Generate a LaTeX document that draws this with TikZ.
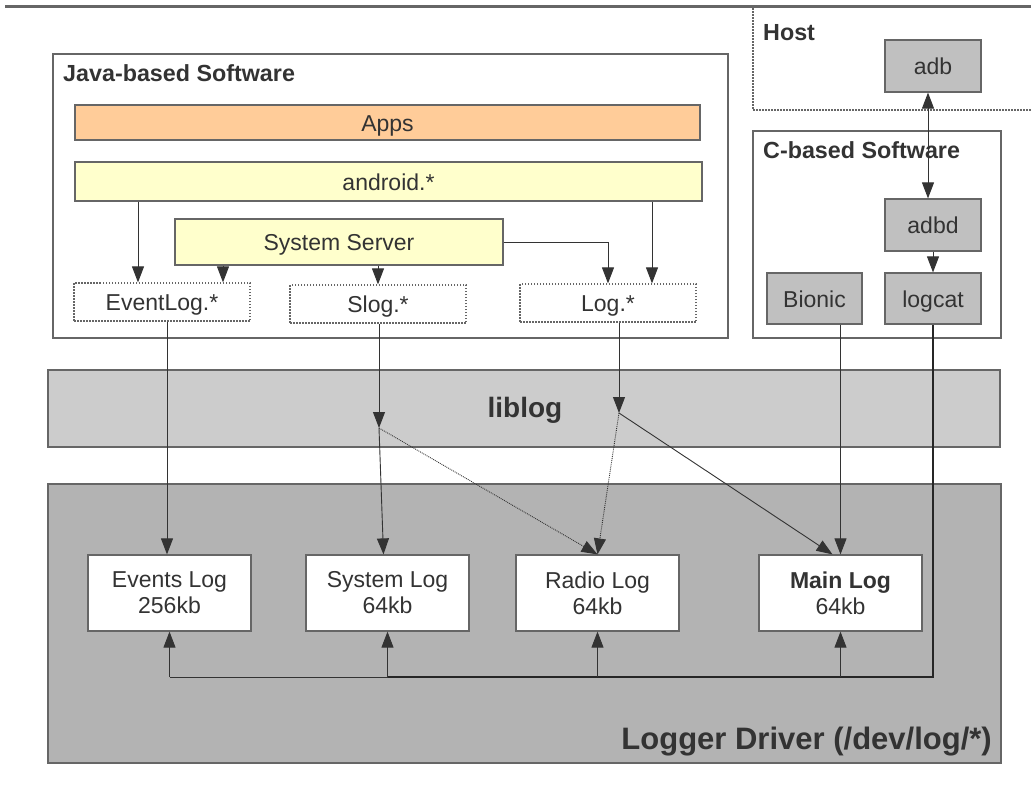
\documentclass[tikz,border=0pt]{standalone}
\usepackage{fontspec}
\setmainfont{Liberation Sans}
\usetikzlibrary{arrows.meta,calc}
\definecolor{edgegray}{RGB}{102,102,102}
\definecolor{txtgray}{RGB}{51,51,51}
\definecolor{appsfill}{RGB}{255,204,153}
\definecolor{javafill}{RGB}{255,255,204}
\definecolor{cfill}{RGB}{192,192,192}
\definecolor{libfill}{RGB}{204,204,204}
\definecolor{drvfill}{RGB}{179,179,179}
\tikzset{
  box/.style={draw=edgegray, line width=1.2pt, text=txtgray, inner sep=0pt,
    font=\fontsize{23}{26}\selectfont, align=center},
  onebox/.style={box, text height=21pt, text depth=4pt},
  dotbox/.style={onebox, fill=white, dash pattern=on 1.5pt off 1.5pt},
  cbox/.style={onebox, fill=cfill, minimum width=96, minimum height=52},
  logbox/.style={box, fill=white, minimum width=163, minimum height=76},
  title/.style={text=txtgray, font=\fontsize{23.3}{26}\selectfont\bfseries, anchor=west, inner sep=0pt},
  arr/.style={draw=black!80, line width=0.9pt, -{Triangle[length=16pt,width=12pt]}},
}
\begin{document}
\begin{tikzpicture}[x=1pt,y=-1pt]
\useasboundingbox (0,0) rectangle (1031,801);
\draw[line width=3pt, edgegray] (5,6) -- (1031,6);

% host side
\draw[edgegray, line width=1.2pt, dash pattern=on 1.5pt off 1.5pt] (753,8) |- (1036,110);
\node[title] (hostT) at (763,33) {Host};
\node[cbox] (adb) at (933,66) {adb};
\node[box, minimum width=248, minimum height=207] (cside) at (877,234.5) {};
\node[title] (cT) at (763,150) {C-based Software};
\node[cbox] (adbd) at (933,225) {adbd};
\node[cbox, minimum width=95, minimum height=51] (bionic) at (814.5,298.5) {Bionic};
\node[cbox, minimum height=51] (logcat) at (933,298.5) {logcat};

% java side
\node[box, minimum width=675, minimum height=284] (java) at (390.5,196) {};
\node[title] (javaT) at (63,73) {Java-based Software};
\node[onebox, fill=appsfill, minimum width=625, minimum height=35] (apps) at (387.5,122.5) {Apps};
\node[onebox, fill=javafill, minimum width=627, minimum height=39] (android) at (388.5,181.5) {android.*};
\node[onebox, fill=javafill, minimum width=328, minimum height=46] (sysserv) at (339,242) {System Server};
\node[dotbox, minimum width=176, minimum height=38] (evt) at (162,302) {EventLog.*};
\node[dotbox, minimum width=176, minimum height=38] (slog) at (378,304) {Slog.*};
\node[dotbox, minimum width=176, minimum height=38] (logj) at (608,303) {Log.*};

% bands
\node[box, fill=libfill, minimum width=952, minimum height=77] (liblog) at (524,408.5) {};
\node[text=txtgray, font=\fontsize{28}{32}\selectfont\bfseries] (libT) at (525,410) {liblog};
\node[box, fill=drvfill, minimum width=953, minimum height=279] (driver) at (524.5,623.5) {};
\node[text=txtgray, font=\fontsize{31}{36}\selectfont\bfseries, anchor=east, inner sep=0pt] (drvT) at (992,742) {Logger Driver (/dev/log/*)};

\node[logbox] (events) at (169.5,593) {Events Log\\256kb};
\node[logbox] (system) at (387.5,593) {System Log\\64kb};
\node[logbox] (radio) at (597.5,593) {Radio Log\\64kb};
\node[logbox] (main) at (840.5,593) {\textbf{Main Log}\\64kb};

% helper points
\coordinate (xa) at (138,0);
\coordinate (xs) at (223,0);
\coordinate (xl) at (652,0);
\coordinate (xe) at (167,0);
\coordinate (xd) at (928,0);
\coordinate (sHub) at (379,428);
\coordinate (lHub) at (619,413);
\coordinate (bus) at (0,677);

% java connectors
\draw[arr] (android.south -| xa) -- (evt.north -| xa);
\draw[arr] (sysserv.south -| xs) -- (evt.north -| xs);
\draw[arr] (sysserv.south -| slog.north) -- (slog.north);
\draw[arr] (sysserv.east) -| (logj.north);
\draw[arr] (android.south -| xl) -- (logj.north -| xl);

% into the driver
\draw[arr] (evt.south -| xe) -- (events.north -| xe);
\draw[arr] (slog.south -| sHub) -- (sHub);
\draw[arr] (sHub) -- ([xshift=-4]system.north);
\draw[arr, densely dotted] (sHub) -- (radio.north);
\draw[arr] (logj.south -| lHub) -- (lHub);
\draw[arr, densely dotted] (lHub) -- (radio.north);
\draw[arr] (lHub) -- ([xshift=-8]main.north);
\draw[arr] (bionic.south -| main.north) -- (main.north);

% adb / logcat
\draw[arr, {Triangle[length=16pt,width=12pt]}-{Triangle[length=16pt,width=12pt]}] (adb.south -| xd) -- (adbd.north -| xd);
\draw[arr] (adbd.south) -- (logcat.north);
\draw[line width=2.2pt, black!85] (logcat.south) |- (bus -| system.south);
\draw[line width=0.9pt, black!80] (bus -| system.south) -- (bus -| events.south);
\foreach \n in {events,system,radio,main}
  \draw[arr] (bus -| \n.south) -- (\n.south);
\end{tikzpicture}
\end{document}
